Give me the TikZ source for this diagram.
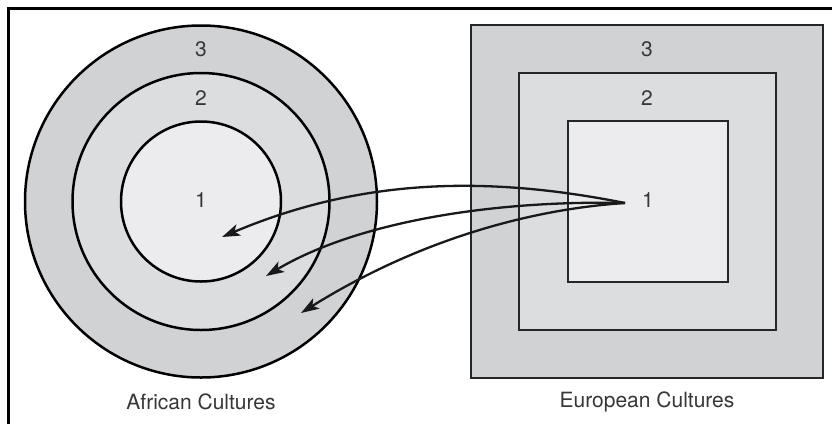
\documentclass[tikz,border=0pt]{standalone}
\usepackage{fontspec}
\setmainfont{TeX Gyre Heros}
\usetikzlibrary{arrows.meta}
\definecolor{ringA}{RGB}{209,210,212}
\definecolor{ringB}{RGB}{220,221,223}
\definecolor{ringC}{RGB}{236,236,238}
\definecolor{txt}{RGB}{55,55,55}
\tikzset{
  ring/.style={circle, draw=black, line width=2.5pt, inner sep=0pt, outer sep=0pt},
  box/.style={rectangle, draw=black!85, line width=2.8pt, inner sep=0pt, outer sep=0pt},
  lab/.style={text=txt, font=\fontsize{21}{25}\selectfont, inner sep=0pt},
  flow/.style={line width=2.3pt, draw=black!90, -{Stealth[length=18pt,width=12pt,inset=4.5pt]}},
  frame/.style={line width=3pt, draw=black}
}
\begin{document}
\begin{tikzpicture}[x=1pt,y=-1pt]
\useasboundingbox (0,0) rectangle (832,424);
\fill[white] (0,0) rectangle (832,424);
\draw[frame] (8,424) -- (8,8) -- (832,8);
% African circles
\node[ring, fill=ringA, minimum size=352pt] (c3) at (201,201.5) {};
\node[ring, fill=ringB, minimum size=257pt] (c2) at (201,201.5) {};
\node[ring, fill=ringC, minimum size=160pt] (c1) at (201,201.5) {};
\node[lab] (a3) at (201,49) {3};
\node[lab] (a2) at (201,98) {2};
\node[lab] (a1) at (201,200) {1};
% European squares
\node[box, fill=ringA, minimum width=352pt, minimum height=353pt] (r3) at (647,201.5) {};
\node[box, fill=ringB, minimum width=257pt, minimum height=257pt] (r2) at (647.5,201.5) {};
\node[box, fill=ringC, minimum width=160pt, minimum height=161pt] (r1) at (648,201.5) {};
\node[lab] (e3) at (647,49) {3};
\node[lab] (e2) at (647,98) {2};
\node[lab] (e1) at (648,200) {1};
% captions
\node[lab] (capA) at (201,402) {African Cultures};
\node[lab] (capE) at (647,402) {European Cultures};
% arrows
\coordinate (src) at (625,203);
\coordinate (t1) at (222,237);
\coordinate (t2) at (266,276);
\coordinate (t3) at (301,313);
\draw[flow] (src) .. controls (475,173) and (352,182) .. (t1);
\draw[flow] (src) .. controls (500,200) and (360,220) .. (t2);
\draw[flow] (src) .. controls (520,210) and (410,245) .. (t3);
\end{tikzpicture}
\end{document}
